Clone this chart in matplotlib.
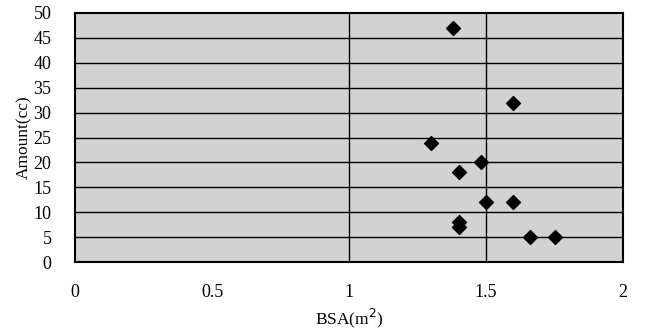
import numpy as np
import matplotlib.pyplot as plt

# BSA (m^2) and amount (cc)
bsa = [1.38, 1.60, 1.30, 1.48, 1.40, 1.50, 1.60, 1.40, 1.40, 1.66, 1.75]
amount = [47, 32, 24, 20, 18, 12, 12, 8, 7, 5, 5]

x_ticks = [0, 0.5, 1, 1.5, 2]
x_tick_labels = ['0', '0.5', '1', '1.5', '2']
y_ticks = list(range(0, 55, 5))
v_lines = [1, 1.5]

plt.rcParams['font.family'] = ['Liberation Serif', 'DejaVu Serif']

fig = plt.figure(figsize=(6.47, 3.33), dpi=100)
ax = fig.add_axes([0.116, 0.213, 0.847, 0.748])
ax.set_facecolor('#d2d2d2')

for y in y_ticks[1:-1]:
    ax.axhline(y, color='black', lw=1.0, zorder=1)
for x in v_lines:
    ax.axvline(x, color='black', lw=1.0, zorder=1)

ax.scatter(bsa, amount, marker='D', s=50, color='black', zorder=3)

ax.set_xlim(0, 2)
ax.set_ylim(0, 50)
ax.set_xticks(x_ticks)
ax.set_xticklabels(x_tick_labels)
ax.set_yticks(y_ticks)
ax.tick_params(axis='both', length=0, labelsize=13)
ax.tick_params(axis='x', pad=16)
ax.tick_params(axis='y', pad=17)

for s in ax.spines.values():
    s.set_linewidth(1.5)
    s.set_color('black')

ax.set_xlabel('BSA(m$^2$)', fontsize=12.5, labelpad=4)
ax.set_ylabel('Amount(cc)', fontsize=12.5, labelpad=1)

fig.savefig('out.png', dpi=100)
